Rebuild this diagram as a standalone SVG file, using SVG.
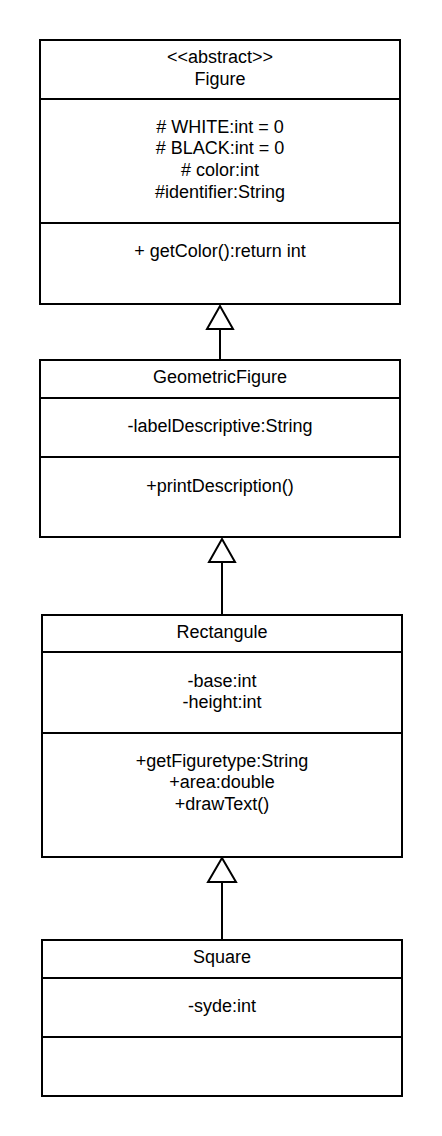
<svg xmlns="http://www.w3.org/2000/svg" width="442" height="1136" viewBox="0 0 442 1136">
<style>
.box{fill:#fff;stroke:#000;stroke-width:2}
.div{stroke:#000;stroke-width:2}
text{font-family:"Liberation Sans",Arial,sans-serif;font-size:18px;fill:#000;text-anchor:middle}
.edge{stroke:#000;stroke-width:2;fill:none}
.tri{fill:#fff;stroke:#000;stroke-width:2}
</style>
<rect width="442" height="1136" fill="#fff"/>
<g id="connectors">
<line class="edge" x1="220" y1="329" x2="220" y2="360"/>
<polygon class="tri" points="220,306 207,329 233,329"/>
<line class="edge" x1="222" y1="562" x2="222" y2="615"/>
<polygon class="tri" points="222,539 209,562 235,562"/>
<line class="edge" x1="222" y1="882" x2="222" y2="940"/>
<polygon class="tri" points="222,858 208,882 236,882"/>
</g>
<g id="Figure">
<rect class="box" x="40" y="40" width="360" height="264"/>
<line class="div" x1="40" y1="99" x2="400" y2="99"/>
<line class="div" x1="40" y1="223" x2="400" y2="223"/>
<text x="220" y="63">&lt;&lt;abstract&gt;&gt;</text>
<text x="220" y="84.6">Figure</text>
<text x="220" y="132.7"># WHITE:int = 0</text>
<text x="220" y="154.3"># BLACK:int = 0</text>
<text x="220" y="175.9"># color:int</text>
<text x="220" y="197.5">#identifier:String</text>
<text x="220" y="257">+ getColor():return int</text>
</g>
<g id="GeometricFigure">
<rect class="box" x="40" y="360" width="360" height="177"/>
<line class="div" x1="40" y1="398" x2="400" y2="398"/>
<line class="div" x1="40" y1="457" x2="400" y2="457"/>
<text x="220" y="383.3">GeometricFigure</text>
<text x="220" y="431.7">-labelDescriptive:String</text>
<text x="220" y="491.7">+printDescription()</text>
</g>
<g id="Rectangule">
<rect class="box" x="42" y="615" width="360" height="242"/>
<line class="div" x1="42" y1="652" x2="402" y2="652"/>
<line class="div" x1="42" y1="733" x2="402" y2="733"/>
<text x="222" y="638.3">Rectangule</text>
<text x="222" y="686.7">-base:int</text>
<text x="222" y="708.3">-height:int</text>
<text x="222" y="766.7">+getFiguretype:String</text>
<text x="222" y="788.3">+area:double</text>
<text x="222" y="809.9">+drawText()</text>
</g>
<g id="Square">
<rect class="box" x="42" y="940" width="360" height="156"/>
<line class="div" x1="42" y1="978" x2="402" y2="978"/>
<line class="div" x1="42" y1="1037" x2="402" y2="1037"/>
<text x="222" y="962.7">Square</text>
<text x="222" y="1011.7">-syde:int</text>
</g>
</svg>
